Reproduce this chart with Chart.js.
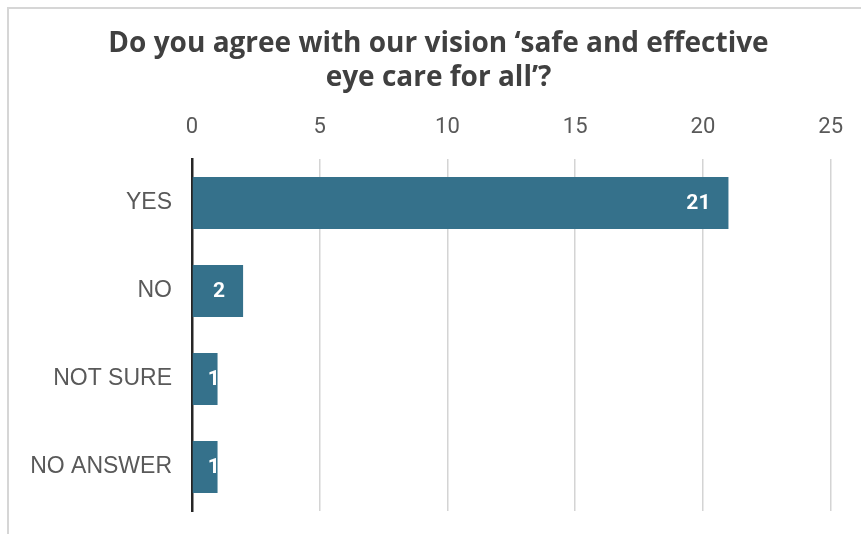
<!DOCTYPE html>
<html>
<head>
<meta charset="utf-8">
<script src="https://cdn.jsdelivr.net/npm/chart.js@4.4.1/dist/chart.umd.min.js"></script>
<style>
  html, body { margin: 0; padding: 0; background: #fff; }
  #wrap { position: relative; width: 861px; height: 534px; overflow: hidden; }
  #frame { position: absolute; left: 7px; top: 7px; width: 900px; height: 600px;
           border-top: 2px solid #d6d6d6; border-left: 2px solid #d6d6d6; }
  #chart { position: absolute; left: 0; top: 0; }
</style>
</head>
<body>
<div id="wrap">
  <div id="frame"></div>
  <canvas id="chart" width="861" height="534"></canvas>
</div>
<script>
const categories = ['YES', 'NO', 'NOT SURE', 'NO ANSWER'];
const responses = [21, 2, 1, 1];
const tickValues = [0, 5, 10, 15, 20, 25];
const titleLines = ['Do you agree with our vision \u2018safe and effective', 'eye care for all\u2019?'];

const narrow = '"Liberation Sans Narrow", "Arial Narrow", Roboto, sans-serif';

// category names, right aligned a little left of the zero line
// (drawn here so the long names are not clipped to the axis box)
const categoryLabels = {
  id: 'categoryLabels',
  afterDraw(chart) {
    const ctx = chart.ctx;
    const y = chart.scales.y;
    ctx.save();
    ctx.font = '23px "Liberation Sans", Arial, sans-serif';
    ctx.fillStyle = '#595959';
    ctx.textAlign = 'right';
    ctx.textBaseline = 'middle';
    categories.forEach((c, i) => {
      ctx.fillText(c, y.right - 20, y.getPixelForTick(i));
    });
    ctx.restore();
  }
};

// white value labels at the inside end of each bar
const barLabels = {
  id: 'barLabels',
  afterDatasetsDraw(chart) {
    const ctx = chart.ctx;
    const meta = chart.getDatasetMeta(0);
    ctx.save();
    ctx.font = 'bold 21px ' + narrow;
    ctx.fillStyle = '#ffffff';
    ctx.textAlign = 'center';
    ctx.textBaseline = 'middle';
    meta.data.forEach((bar, i) => {
      const txt = String(responses[i]);
      const w = ctx.measureText(txt).width;
      let cx = bar.x - 18 - w / 2;
      if (cx < bar.base + 21) cx = bar.base + 21;
      // text outside the bar is white on white, so clip to the bar
      ctx.save();
      ctx.beginPath();
      ctx.rect(bar.base, bar.y - bar.height / 2, bar.x - bar.base, bar.height);
      ctx.clip();
      ctx.fillText(txt, cx, bar.y + 1);
      ctx.restore();
    });
    ctx.restore();
  }
};

new Chart(document.getElementById('chart'), {
  type: 'bar',
  data: {
    labels: categories,
    datasets: [{
      data: responses,
      backgroundColor: '#35718b',
      barPercentage: 0.59,
      categoryPercentage: 1.0
    }]
  },
  options: {
    indexAxis: 'y',
    responsive: false,
    animation: false,
    layout: { padding: { left: 46, right: 30, top: 0, bottom: 23 } },
    plugins: {
      legend: { display: false },
      tooltip: { enabled: false },
      title: {
        display: true,
        text: titleLines,
        color: '#404040',
        font: { family: '"Open Sans", "Liberation Sans", sans-serif', size: 28, weight: 'bold', lineHeight: 1.214 },
        padding: { top: 27, bottom: 0 }
      }
    },
    scales: {
      x: {
        position: 'top',
        min: 0,
        max: 25,
        afterBuildTicks(scale) {
          scale.ticks = tickValues.map(v => ({ value: v }));
        },
        afterFit(scale) { scale.height = 64; },
        ticks: {
          color: '#595959',
          padding: 18,
          font: { family: narrow, size: 22 }
        },
        grid: {
          color: '#d4d4d4',
          lineWidth: 1.5,
          drawTicks: false
        },
        border: { display: false }
      },
      y: {
        afterFit(scale) { scale.width = 146; },
        ticks: { display: false },
        grid: { display: false, drawTicks: false },
        border: { display: true, color: '#262626', width: 2.5 }
      }
    }
  },
  plugins: [barLabels, categoryLabels]
});
</script>
</body>
</html>
